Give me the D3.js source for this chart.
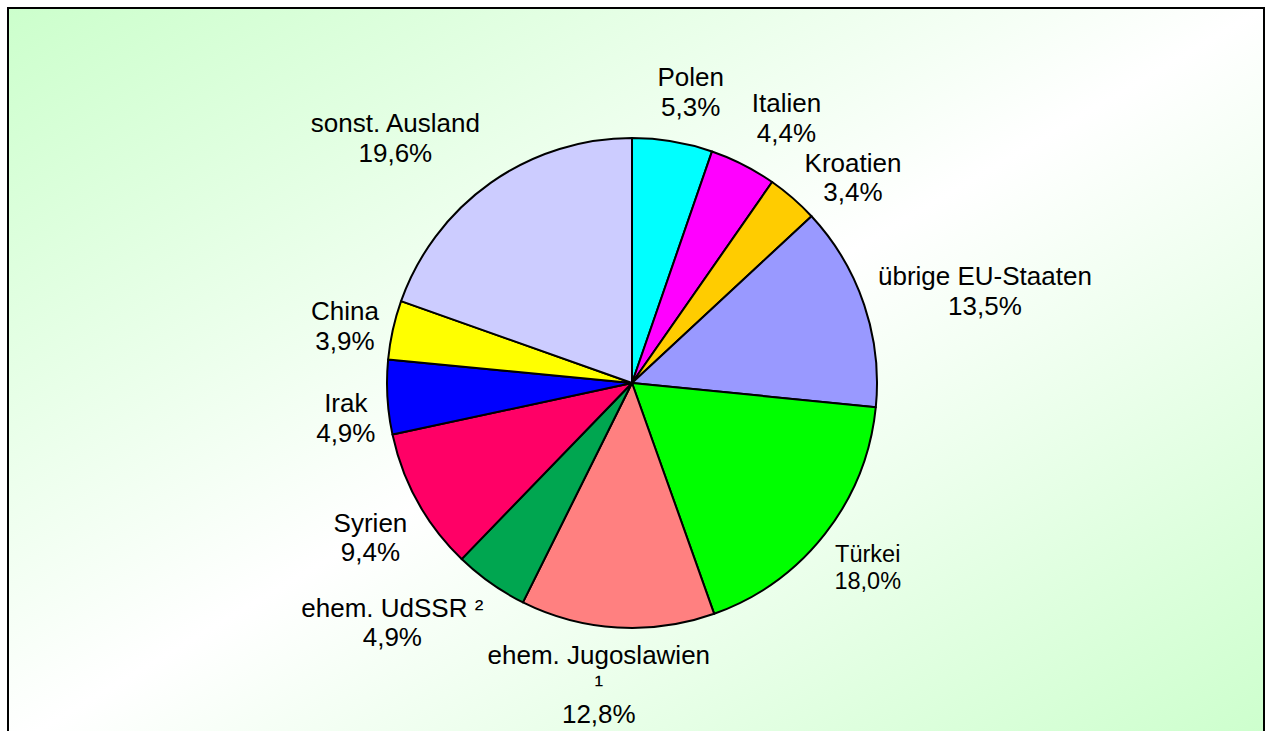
<!DOCTYPE html>
<html>
<head>
<meta charset="utf-8">
<script src="https://cdn.jsdelivr.net/npm/d3@7"></script>
<style>
  body { margin: 0; background: #fff; }
  svg { display: block; }
</style>
</head>
<body>
<div id="chart"></div>
<script>
// Anteile Ausländer nach Staatsangehörigkeit (in %)
const laender = ["Polen", "Italien", "Kroatien", "übrige EU-Staaten", "Türkei",
  "ehem. Jugoslawien ¹", "ehem. UdSSR ²", "Syrien", "Irak", "China", "sonst. Ausland"];
const anteile = [5.3, 4.4, 3.4, 13.5, 18.0, 12.8, 4.9, 9.4, 4.9, 3.9, 19.6];
const farben = ["#00ffff", "#ff00ff", "#ffcc00", "#9999ff", "#00ff00",
  "#ff8080", "#00a650", "#ff0066", "#0000ff", "#ffff00", "#ccccff"];

const W = 1272, H = 731;
const cx = 632, cy = 383, radius = 245;

let data = laender.map((l, i) => ({ land: l, wert: anteile[i], farbe: farben[i] }));

const svg = d3.select("#chart").append("svg")
  .attr("width", W).attr("height", H)
  .style("font-family", "'Liberation Sans', Arial, sans-serif");

const grad = svg.append("defs").append("linearGradient")
  .attr("id", "bg").attr("x1", 0).attr("y1", 0).attr("x2", 1).attr("y2", 1);
grad.append("stop").attr("offset", 0).attr("stop-color", "#ccffcc");
grad.append("stop").attr("offset", 0.5).attr("stop-color", "#ffffff");
grad.append("stop").attr("offset", 1).attr("stop-color", "#ccffcc");

svg.append("rect")
  .attr("x", 8).attr("y", 8).attr("width", 1256).attr("height", 740)
  .attr("fill", "url(#bg)").attr("stroke", "#000").attr("stroke-width", 2);

const pie = d3.pie().sort(null).value(d => d.wert);
const arc = d3.arc().innerRadius(0).outerRadius(radius);
const arcs = pie(data);

const g = svg.append("g").attr("transform", `translate(${cx},${cy})`);

g.selectAll("path.slice")
  .data(arcs)
  .join("path")
  .attr("class", "slice")
  .attr("d", arc)
  .attr("fill", d => d.data.farbe)
  .attr("stroke", "#000")
  .attr("stroke-width", 2)
  .attr("stroke-linejoin", "round");

// Beschriftungen (ähnlich Excel "Ende außerhalb")
const fmt = v => d3.format(".1f")(v).replace(".", ",") + "%";
const maxBreite = 230;
const clamp = v => Math.max(-1, Math.min(1, v));
let boxen = [];

arcs.forEach(d => {
  const fs = d.data.land === "Türkei" ? 23.5 : 26;
  const lh = 29.6 * fs / 26;
  const t = g.append("text")
    .attr("text-anchor", "middle")
    .attr("font-size", fs)
    .attr("fill", "#000");

  // Zeilenumbruch nach Breite
  let zeilen = [];
  let worte = d.data.land.split(" ");
  let zeile = "";
  const probe = t.append("tspan");
  worte.forEach(w => {
    let test = zeile ? zeile + " " + w : w;
    probe.text(test);
    if (probe.node().getComputedTextLength() > maxBreite && zeile) {
      zeilen.push(zeile);
      zeile = w;
    } else {
      zeile = test;
    }
  });
  zeilen.push(zeile);
  probe.remove();
  zeilen.push(fmt(d.data.wert));

  zeilen.forEach((z, i) => {
    t.append("tspan").attr("x", 0).attr("dy", i === 0 ? 0 : lh).text(z);
  });

  const bb = t.node().getBBox();
  const a = (d.startAngle + d.endAngle) / 2;
  const sx = Math.sin(a), cs = Math.cos(a);
  const abstand = 12 + 8 * Math.max(0, cs);
  const ax = sx * (radius + abstand), ay = -cs * (radius + abstand);
  const fx = 0.5 - 0.5 * clamp(sx * 2.7);
  const fy = 0.5 + 0.5 * clamp(2.6 * (cs - 0.2));
  const left = ax - fx * bb.width;
  const top = ay - fy * bb.height;

  // Überlappung vermeiden: im Uhrzeigersinn weiterschieben
  let box = { x0: left, y0: top, x1: left + bb.width, y1: top + bb.height };
  boxen.forEach(o => {
    if (box.x0 < o.x1 && box.x1 > o.x0 && box.y0 < o.y1 && box.y1 > o.y0) {
      const dy = sx >= 0 ? o.y1 - box.y0 : o.y0 - box.y1;
      box.y0 += dy; box.y1 += dy;
    }
  });
  boxen.push(box);

  t.attr("transform", `translate(${box.x0 - bb.x},${box.y0 - bb.y})`);
});
</script>
</body>
</html>
